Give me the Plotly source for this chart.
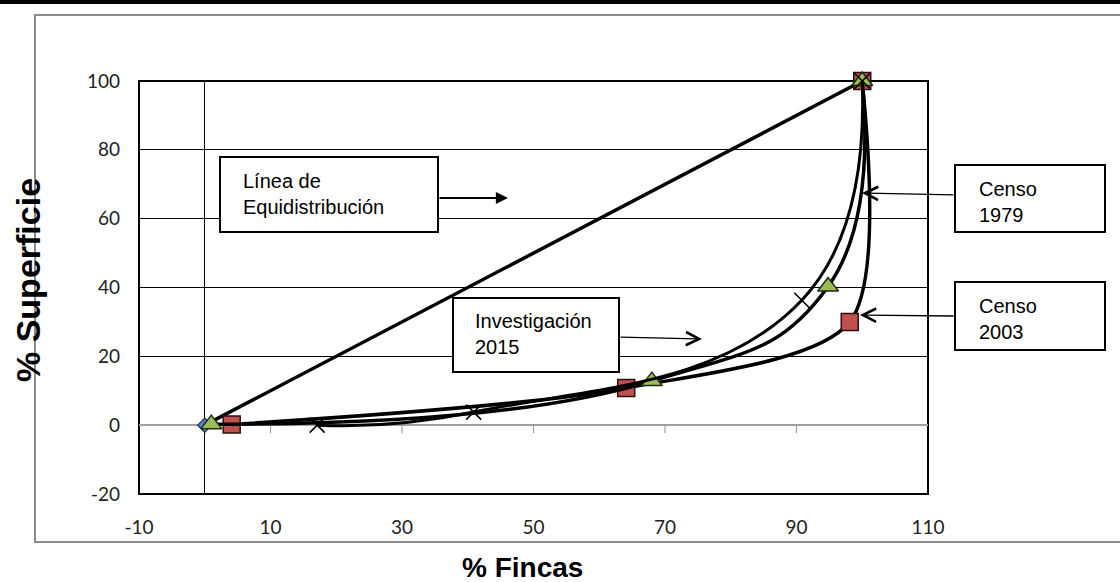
import plotly.graph_objects as go

# ---------------- data ----------------
equi_x = [0, 100]
equi_y = [0, 100]

censo2003_x = [4.1, 64.1, 98.1, 100]
censo2003_y = [0.2, 10.8, 30.0, 100]

censo1979_x = [1.0, 68.0, 94.8, 100]
censo1979_y = [0.3, 12.8, 40.3, 100]

inv2015_x = [17.1, 40.9, 90.8, 100]
inv2015_y = [0.0, 3.8, 36.3, 100]

x_ticks = [-10, 10, 30, 50, 70, 90, 110]
y_ticks = [-20, 0, 20, 40, 60, 80, 100]

x_title = "% Fincas"
y_title = "% Superficie"

# ---------------- layout geometry ----------------
W, H = 1120, 582
L, R, T, B = 139, 928, 81, 494


def px(x):
    return (x - L) / (R - L)


def py(y):
    return (B - y) / (B - T)


fig = go.Figure()

line_w = 3.5
fig.add_trace(go.Scatter(
    x=equi_x, y=equi_y, mode="lines+markers", name="Línea de Equidistribución",
    line=dict(color="black", width=line_w),
    marker=dict(symbol="diamond", size=11, color="#4F81BD",
                line=dict(color="#1F2F4F", width=1.2)),
    cliponaxis=False))
fig.add_trace(go.Scatter(
    x=censo2003_x, y=censo2003_y, mode="lines+markers", name="Censo 2003",
    line=dict(color="black", width=line_w, shape="spline", smoothing=0.8),
    marker=dict(symbol="square", size=17, color="#C0504D",
                line=dict(color="#2a1010", width=1.5)),
    cliponaxis=False))
fig.add_trace(go.Scatter(
    x=censo1979_x, y=censo1979_y, mode="lines+markers", name="Censo 1979",
    line=dict(color="black", width=line_w, shape="spline", smoothing=1.3),
    marker=dict(symbol="triangle-up", size=18, color="#9BBB59",
                line=dict(color="#1f2a10", width=1.5)),
    cliponaxis=False))
fig.add_trace(go.Scatter(
    x=inv2015_x, y=inv2015_y, mode="lines+markers", name="Investigación 2015",
    line=dict(color="black", width=3, shape="spline", smoothing=1.3),
    marker=dict(symbol="x-thin-open", size=15, color="black",
                line=dict(color="black", width=1.6)),
    cliponaxis=False))

shapes = []
# top black rule
shapes.append(dict(type="line", xref="paper", yref="paper",
                   x0=px(0), x1=px(W), y0=py(2), y1=py(2),
                   line=dict(color="black", width=4), layer="above"))
# outer chart border (gray)
shapes.append(dict(type="rect", xref="paper", yref="paper",
                   x0=px(35), x1=px(W + 20), y0=py(542), y1=py(15),
                   line=dict(color="#8C8C8C", width=2), layer="below"))
# plot frame
shapes.append(dict(type="rect", xref="paper", yref="paper",
                   x0=0, x1=1, y0=0, y1=1,
                   line=dict(color="black", width=2), layer="below"))
# small tick marks on the gray y=0 axis line
for t in x_ticks:
    if t in (-10, 110):
        continue
    shapes.append(dict(type="line", xref="x", yref="y", ysizemode="pixel",
                       yanchor=0, x0=t, x1=t, y0=0, y1=-8,
                       line=dict(color="#A0A0A0", width=1.2), layer="below"))

boxes = [
    # (x0, y0, x1, y1, text_x, text_center_y, text)
    (220, 157, 438, 232, 241, 193.5, "Línea de<br>Equidistribución"),
    (453, 298, 619, 372, 473, 333.5, "Investigación<br>2015"),
    (955, 165, 1105, 232, 977, 201.5, "Censo<br>1979"),
    (955, 282, 1105, 350, 977, 318.5, "Censo<br>2003"),
]
annotations = []
for (x0, y0, x1, y1, tx, ty, txt) in boxes:
    shapes.append(dict(type="rect", xref="paper", yref="paper",
                       x0=px(x0), x1=px(x1), y0=py(y1), y1=py(y0),
                       fillcolor="white", line=dict(color="black", width=2),
                       layer="above"))
    annotations.append(dict(xref="paper", yref="paper", x=px(tx), y=py(ty),
                            text=txt, showarrow=False, xanchor="left",
                            yanchor="middle", align="left",
                            font=dict(family="Liberation Sans, Arial", size=20,
                                      color="black")))

# arrows: (tail_x, tail_y, tip_x, tip_y, head, width, size)
arrows = [
    (438, 198, 508, 198, 2, 2.2, 1.1),
    (619, 337, 702, 339, 5, 1.3, 2.0),
    (955, 195, 862, 193, 5, 1.3, 2.0),
    (955, 316, 860, 315, 5, 1.3, 2.0),
]
for (ax0, ay0, tx, ty, head, w, s) in arrows:
    annotations.append(dict(xref="paper", yref="paper", x=px(tx), y=py(ty),
                            ax=ax0 - tx, ay=ay0 - ty, text="", showarrow=True,
                            arrowhead=head, arrowwidth=w, arrowsize=s,
                            arrowcolor="black", standoff=0, startstandoff=0))

# axis titles
annotations.append(dict(xref="paper", yref="paper", x=px(522), y=py(567),
                        text=x_title, showarrow=False, xanchor="center",
                        yanchor="middle",
                        font=dict(family="Liberation Sans, Arial", size=28,
                                  color="black", weight="bold")))
annotations.append(dict(xref="paper", yref="paper", x=px(28), y=py(280),
                        text=y_title, showarrow=False, textangle=-90,
                        xanchor="center", yanchor="middle",
                        font=dict(family="Liberation Sans, Arial", size=34,
                                  color="black", weight="bold")))

tick_font = dict(family="Lato, Carlito, Calibri, sans-serif", size=19,
                 color="#222222")

fig.update_layout(
    width=W, height=H,
    margin=dict(l=L, r=W - R, t=T, b=H - B, pad=0),
    paper_bgcolor="white", plot_bgcolor="white",
    showlegend=False,
    shapes=shapes, annotations=annotations,
    xaxis=dict(range=[-10, 110], tickmode="array", tickvals=x_ticks,
               ticktext=[str(v) for v in x_ticks], showgrid=False,
               zeroline=True, zerolinecolor="black", zerolinewidth=1,
               showline=False, ticks="", ticklabelstandoff=20,
               tickfont=tick_font, layer="below traces", fixedrange=True),
    yaxis=dict(range=[-20, 100], tickmode="array", tickvals=y_ticks,
               ticktext=[str(v) for v in y_ticks], showgrid=True,
               gridcolor="black", gridwidth=1,
               zeroline=True, zerolinecolor="#A0A0A0", zerolinewidth=1.5,
               showline=False, ticks="", ticklabelstandoff=18,
               tickfont=tick_font, layer="below traces", fixedrange=True),
)

fig.write_html("out.html",
               config={"displayModeBar": False},
               post_script="document.body.style.margin='0px';"
                           "document.body.style.overflow='hidden';")
